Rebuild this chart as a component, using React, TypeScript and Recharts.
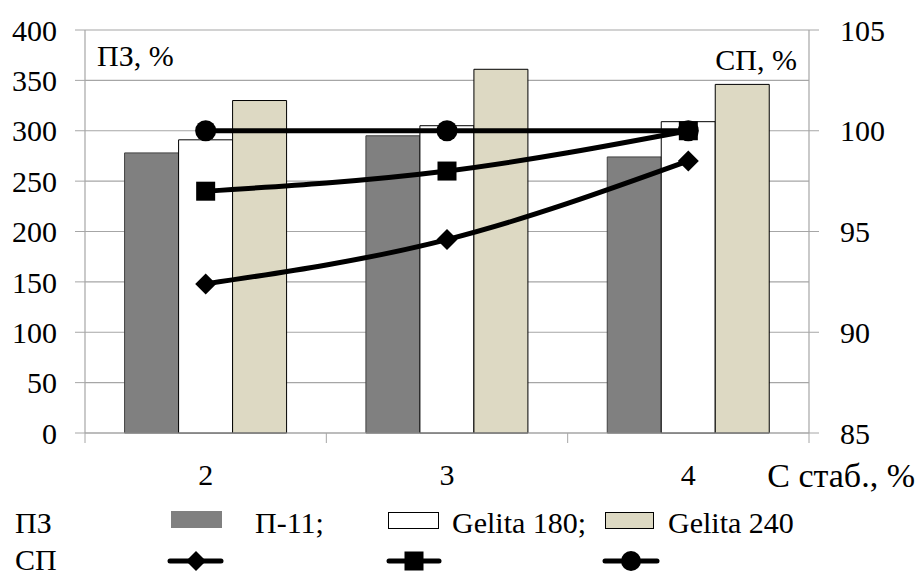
import React from 'react';
import { ComposedChart, Bar, Line, XAxis, YAxis, CartesianGrid } from 'recharts';

const categories = ['2', '3', '4'];
// ПЗ, % (left axis)
const pzP11 = [278, 295, 274];
const pzGelita180 = [291, 305, 309];
const pzGelita240 = [330, 361, 346];
// СП, % (right axis)
const spP11 = [92.4, 94.6, 98.5];
const spGelita180 = [97, 98, 100];
const spGelita240 = [100, 100, 100];

const leftTicks = [0, 50, 100, 150, 200, 250, 300, 350, 400];
const rightTicks = [85, 90, 95, 100, 105];

const data = categories.map((c, i) => ({
    c,
    pzP11: pzP11[i],
    pzG180: pzGelita180[i],
    pzG240: pzGelita240[i],
    spP11: spP11[i],
    spG180: spGelita180[i],
    spG240: spGelita240[i],
}));

const W = 920;
const H = 574;
const LEFT_W = 85;
const RIGHT_W = 111;
const PLOT_W = W - LEFT_W - RIGHT_W;
const BAND = PLOT_W / categories.length;

const FONT = 'Liberation Serif';
const FS = 30;
const GRID = '#a6a6a6';
const GREY = '#808080';
const BEIGE = '#ddd9c3';

const XTick = (props: any) => {
    const { x, y, payload, index } = props;
    return (
        <g>
            <line x1={x - BAND / 2} x2={x - BAND / 2} y1={y} y2={y + 10} stroke={GRID} />
            {index === categories.length - 1 && (
                <line x1={x + BAND / 2} x2={x + BAND / 2} y1={y} y2={y + 10} stroke={GRID} />
            )}
            <text x={x} y={y + 52} textAnchor="middle" fill="#000" fontSize={FS} fontFamily={FONT}>
                {payload.value}
            </text>
        </g>
    );
};

const Diamond = (props: any) => {
    const { cx, cy } = props;
    const r = 10.5;
    return <path d={`M${cx},${cy - r}L${cx + r},${cy}L${cx},${cy + r}L${cx - r},${cy}Z`} fill="#000" />;
};
const Square = (props: any) => {
    const { cx, cy } = props;
    return <rect x={cx - 9.5} y={cy - 9.5} width={19} height={19} fill="#000" />;
};
const Circle = (props: any) => {
    const { cx, cy } = props;
    return <circle cx={cx} cy={cy} r={10.5} fill="#000" />;
};

const T = (p: { x: number; y: number; anchor?: string; size?: number; children: React.ReactNode }) => (
    <text x={p.x} y={p.y} textAnchor={p.anchor || 'start'} fontFamily={FONT} fontSize={p.size || FS} fill="#000">
        {p.children}
    </text>
);

export default function App() {
    return (
        <div style={{ position: 'absolute', left: 0, top: 0, width: W, height: H, background: '#fff', fontFamily: FONT }}>
            <ComposedChart
                width={W}
                height={H}
                data={data}
                margin={{ top: 30, right: 0, bottom: 81, left: 0 }}
                barCategoryGap="16.4%"
                barGap={0}
                style={{ fontFamily: FONT }}
            >
                <CartesianGrid yAxisId="left" vertical={false} stroke={GRID} strokeWidth={1.2} />
                <XAxis
                    dataKey="c"
                    height={60}
                    axisLine={{ stroke: GRID, strokeWidth: 1.2 }}
                    tickLine={false}
                    tickSize={0}
                    tickMargin={0}
                    tick={<XTick />}
                    interval={0}
                />
                <YAxis
                    yAxisId="left"
                    width={LEFT_W}
                    domain={[0, 400]}
                    ticks={leftTicks}
                    interval={0}
                    axisLine={{ stroke: GRID, strokeWidth: 1.2 }}
                    tickLine={{ stroke: GRID }}
                    tickSize={10}
                    tickMargin={18}
                    tick={{ fill: '#000', fontSize: FS, fontFamily: FONT }}
                />
                <YAxis
                    yAxisId="right"
                    orientation="right"
                    width={RIGHT_W}
                    domain={[85, 105]}
                    ticks={rightTicks}
                    interval={0}
                    axisLine={{ stroke: GRID, strokeWidth: 1.2 }}
                    tickLine={{ stroke: GRID }}
                    tickSize={10}
                    tickMargin={21}
                    tick={{ fill: '#000', fontSize: FS, fontFamily: FONT, textAnchor: 'start' }}
                />
                <Bar yAxisId="left" dataKey="pzP11" fill={GREY} stroke="#404040" strokeWidth={1} isAnimationActive={false} />
                <Bar yAxisId="left" dataKey="pzG180" fill="#fff" stroke="#000" strokeWidth={1} isAnimationActive={false} />
                <Bar yAxisId="left" dataKey="pzG240" fill={BEIGE} stroke="#000" strokeWidth={1} isAnimationActive={false} />
                <Line yAxisId="right" dataKey="spG240" type="monotone" stroke="#000" strokeWidth={5} dot={<Circle />} activeDot={false} isAnimationActive={false} />
                <Line yAxisId="right" dataKey="spG180" type="monotone" stroke="#000" strokeWidth={5} dot={<Square />} activeDot={false} isAnimationActive={false} />
                <Line yAxisId="right" dataKey="spP11" type="monotone" stroke="#000" strokeWidth={5} dot={<Diamond />} activeDot={false} isAnimationActive={false} />
            </ComposedChart>
            <svg width={W} height={H} style={{ position: 'absolute', left: 0, top: 0, pointerEvents: 'none' }}>
                <T x={97} y={66}>ПЗ, %</T>
                <T x={797} y={70} anchor="end">СП, %</T>
                <T x={915} y={487} anchor="end" size={34}>С стаб., %</T>

                <T x={15} y={533}>ПЗ</T>
                <rect x={171} y={511} width={51} height={17} fill={GREY} />
                <T x={255} y={533}>П-11;</T>
                <rect x={388.5} y={512.5} width={50} height={16} fill="#fff" stroke="#000" />
                <T x={452} y={533}>Gelita 180;</T>
                <rect x={605.5} y={512.5} width={48} height={16} fill={BEIGE} stroke="#000" />
                <T x={668} y={533}>Gelita 240</T>

                <T x={15} y={570}>СП</T>
                <line x1={170} x2={221} y1={561} y2={561} stroke="#000" strokeWidth={5} strokeLinecap="round" />
                <path d="M196,551L206,561L196,571L186,561Z" fill="#000" />
                <line x1={389} x2={439} y1={561} y2={561} stroke="#000" strokeWidth={5} strokeLinecap="round" />
                <rect x={404.5} y={551.5} width={19} height={19} fill="#000" />
                <line x1={605} x2={657} y1={561} y2={561} stroke="#000" strokeWidth={5} strokeLinecap="round" />
                <circle cx={631} cy={561} r={10} fill="#000" />
            </svg>
        </div>
    );
}
